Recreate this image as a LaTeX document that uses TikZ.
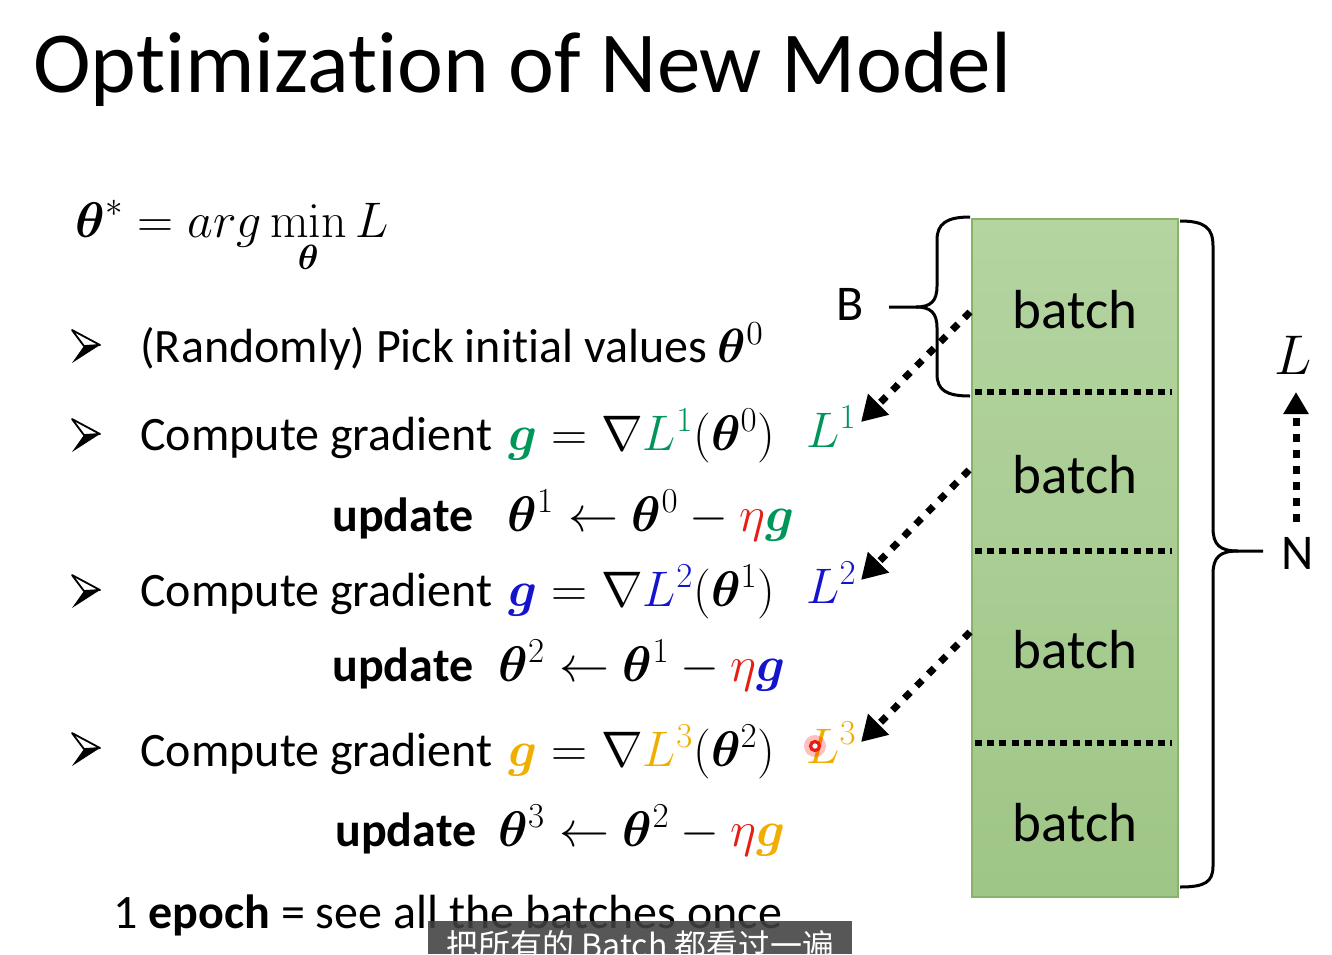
\documentclass[tikz,border=0pt]{standalone}
\usepackage{fix-cm}
\usepackage{amsmath,bm}
\usepackage[no-math]{fontspec}
\setmainfont{Carlito}[Ligatures={NoCommon}]
\newfontfamily\cjk{Noto Sans CJK SC}
\usetikzlibrary{arrows.meta}
\definecolor{cgreen}{RGB}{0,150,90}
\definecolor{cblue}{RGB}{20,20,205}
\definecolor{cyellow}{RGB}{240,175,0}
\definecolor{cred}{RGB}{230,30,20}
\definecolor{boxtop}{RGB}{180,212,160}
\definecolor{boxbot}{RGB}{158,198,134}
\definecolor{boxedge}{RGB}{135,180,105}
\tikzset{
  txt/.style={anchor=base west, inner sep=0pt, font=\fontsize{24}{29}\selectfont},
  mth/.style={anchor=base west, inner sep=0pt, font=\fontsize{25}{30}\selectfont},
  batchlbl/.style={inner sep=0pt, font=\fontsize{27.5}{33}\selectfont},
  sep/.style={line width=2.6pt, dash pattern=on 3.5pt off 2.6pt},
  dotarrow/.style={line width=3.5pt, dash pattern=on 4pt off 4.5pt, -{Triangle[length=12.5pt,width=14pt]}},
  bracestyle/.style={line width=1.5pt},
  bulletpic/.pic={
    \filldraw[fill=white,draw=black,line width=0.9pt,line join=round] (0,-15) -- (28,0) -- (12,1) -- cycle;
    \fill[black] (12,1) -- (28,0) -- (0,18) -- cycle;
  }
}
\begin{document}
\begin{tikzpicture}[x=0.5pt,y=-0.5pt]
\useasboundingbox (0,0) rectangle (1332,954);
% title
\node[anchor=base west, inner sep=0pt, font=\fontsize{43.5}{52}\selectfont] (title) at (33,92) {Optimization of New Model};
% objective
\node[anchor=base west, inner sep=0pt, font=\fontsize{25}{30}\selectfont] (obj) at (75,237) {$\displaystyle \bm{\theta}^{*} = arg\min_{\bm{\theta}} L$};
% bullets
\pic at (72,345) {bulletpic};
\pic at (72,434) {bulletpic};
\pic at (72,590) {bulletpic};
\pic at (72,748) {bulletpic};
% rows
\node[txt] (r1) at (140,362) {(Randomly) Pick initial values $\bm{\theta}^{0}$};
\node[txt] (r2) at (140,450) {Compute gradient};
\node[mth] (m2) at (508,450) {$\textcolor{cgreen}{\bm{g}} = \nabla\textcolor{cgreen}{L^{1}}(\bm{\theta}^{0})$};
\node[txt] (u1) at (332,531) {\textbf{update}};
\node[mth] (n1) at (507,531) {$\bm{\theta}^{1} \leftarrow \bm{\theta}^{0} - \textcolor{cred}{\eta}\textcolor{cgreen}{\bm{g}}$};
\node[txt] (r4) at (140,606) {Compute gradient};
\node[mth] (m4) at (508,606) {$\textcolor{cblue}{\bm{g}} = \nabla\textcolor{cblue}{L^{2}}(\bm{\theta}^{1})$};
\node[txt] (u2) at (332,681) {\textbf{update}};
\node[mth] (n2) at (498,681) {$\bm{\theta}^{2} \leftarrow \bm{\theta}^{1} - \textcolor{cred}{\eta}\textcolor{cblue}{\bm{g}}$};
\node[txt] (r6) at (140,766) {Compute gradient};
\node[mth] (m6) at (508,766) {$\textcolor{cyellow}{\bm{g}} = \nabla\textcolor{cyellow}{L^{3}}(\bm{\theta}^{2})$};
\node[txt] (u3) at (335,846) {\textbf{update}};
\node[mth] (n3) at (498,846) {$\bm{\theta}^{3} \leftarrow \bm{\theta}^{2} - \textcolor{cred}{\eta}\textcolor{cyellow}{\bm{g}}$};
\node[txt] (ep) at (113,928) {1 \textbf{epoch} = see all the batches once};
% L labels
\node[mth] (L1) at (806,447) {$\textcolor{cgreen}{L^{1}}$};
\node[mth] (L2) at (806,603) {$\textcolor{cblue}{L^{2}}$};
\node[mth] (L3) at (806,763) {$\textcolor{cyellow}{L^{3}}$};
% laser dot
\fill[red,opacity=0.25] (815,746) circle (11);
\draw[cred,line width=1.6pt,fill=white] (815,746) circle (4.5);
% data box
\shade[top color=boxtop,bottom color=boxbot] (972,219) rectangle (1178,897);
\draw[boxedge,line width=0.8pt] (972,219) rectangle (1178,897);
\draw[sep] (975,392) -- (1172,392);
\draw[sep] (975,551) -- (1172,551);
\draw[sep] (975,743) -- (1172,743);
\node[batchlbl] (b1) at (1075,310) {batch};
\node[batchlbl] (b2) at (1075,475) {batch};
\node[batchlbl] (b3) at (1075,650) {batch};
\node[batchlbl] (b4) at (1075,823) {batch};
% arrows batch -> L
\coordinate (s1) at (970,312);
\coordinate (t1) at (861,422);
\coordinate (s2) at (969,470);
\coordinate (t2) at (861,580);
\coordinate (s3) at (970,632);
\coordinate (t3) at (861,742);
\draw[dotarrow] (s1) -- (t1);
\draw[dotarrow] (s2) -- (t2);
\draw[dotarrow] (s3) -- (t3);
% left brace B
\draw[bracestyle] (970,217) .. controls (946,217) and (937,224) .. (937,240) -- (937,286)
  .. controls (937,301) and (931,307) .. (916,307) -- (889,307);
\draw[bracestyle] (916,307) .. controls (931,307) and (937,313) .. (937,328) -- (937,374)
  .. controls (937,390) and (946,396) .. (970,396);
\node[inner sep=0pt, font=\fontsize{25}{30}\selectfont] (B) at (850,304) {B};
% right brace N
\draw[bracestyle] (1180,221) .. controls (1205,221) and (1213,228) .. (1213,246) -- (1213,528)
  .. controls (1213,545) and (1220,551) .. (1238,551) -- (1263,551);
\draw[bracestyle] (1238,551) .. controls (1220,551) and (1213,557) .. (1213,574) -- (1213,866)
  .. controls (1213,882) and (1205,887) .. (1180,887);
\node[inner sep=0pt, font=\fontsize{25}{30}\selectfont] (N) at (1298,553) {N};
\node[inner sep=0pt, font=\fontsize{28}{33}\selectfont] (Ltot) at (1293,355) {$L$};
\coordinate (vs) at (1296,522);
\coordinate (vt) at (1296,392);
\draw[line width=3.5pt, dash pattern=on 4pt off 4pt, -{Triangle[length=11pt,width=12pt]}] (vs) -- (vt);
% caption
\fill[black!75,opacity=0.88] (428,921) rectangle (852,954);
\node[anchor=base west, inner sep=0pt, text=white, font=\fontsize{16}{19}\cjk] (cap) at (446,957) {把所有的 Batch 都看过一遍};
\end{tikzpicture}
\end{document}
